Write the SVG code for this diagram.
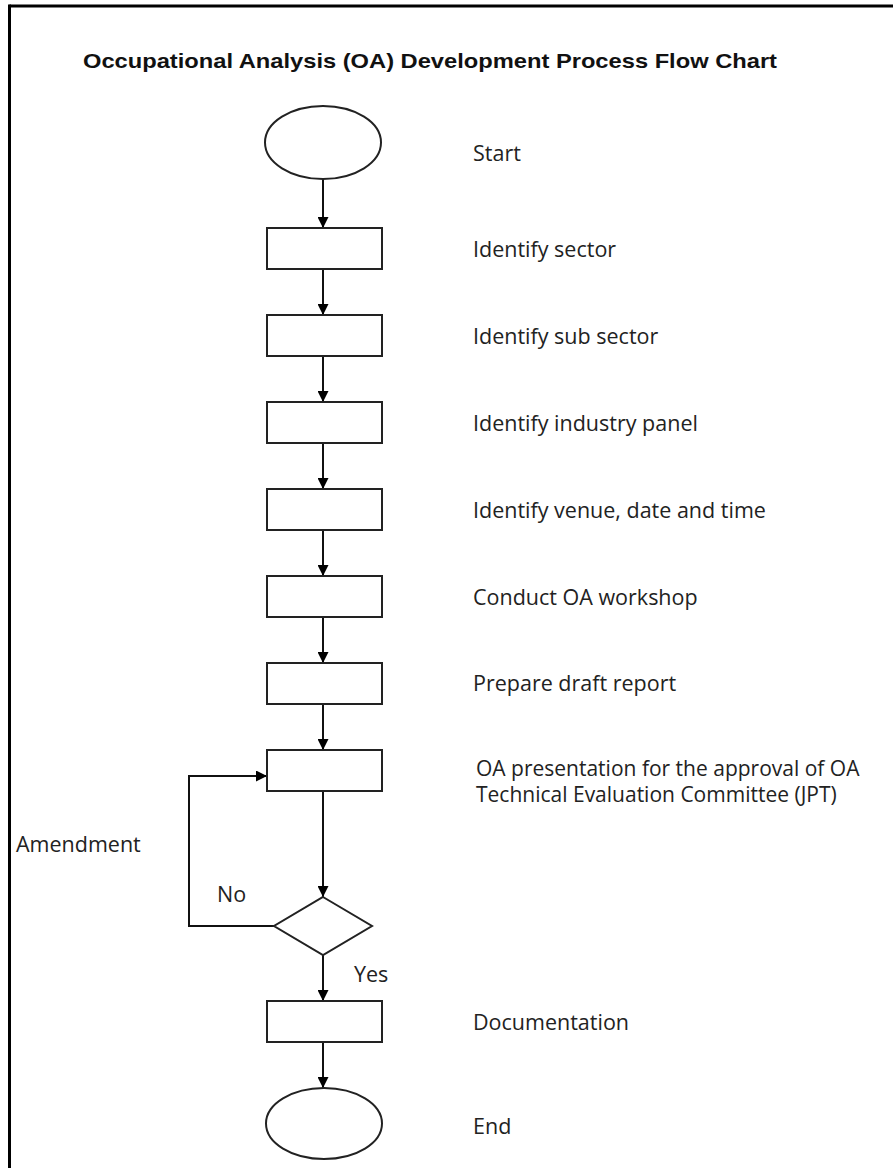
<svg xmlns="http://www.w3.org/2000/svg" width="893" height="1168" viewBox="0 0 893 1168">
<defs>
<marker id="arr" viewBox="0 0 10 10" refX="10" refY="5" markerWidth="11" markerHeight="11" markerUnits="userSpaceOnUse" orient="auto">
<path d="M0,0 L10,5 L0,10 Z" fill="#000"/>
</marker>
<style>
.shape{fill:#fff;stroke:#222;stroke-width:2}
.conn{fill:none;stroke:#111;stroke-width:2;marker-end:url(#arr)}
.lbl{font-family:"Open Sans","Liberation Sans",sans-serif;font-size:21.5px;fill:#222}
.lbl2{font-family:"Open Sans","Liberation Sans",sans-serif;font-size:21px;fill:#222}
.title{font-family:"Liberation Sans",Arial,sans-serif;font-weight:bold;font-size:21px;fill:#111}
</style>
</defs>
<rect width="893" height="1168" fill="#fff"/>
<line x1="9.5" y1="6" x2="893" y2="6" stroke="#000" stroke-width="3"/>
<line x1="9.5" y1="4.5" x2="9.5" y2="1168" stroke="#000" stroke-width="3"/>
<text class="title" x="83" y="68" textLength="694" lengthAdjust="spacingAndGlyphs">Occupational Analysis (OA) Development Process Flow Chart</text>

<g id="connectors">
<line class="conn" x1="323" y1="179" x2="323" y2="228"/>
<line class="conn" x1="323" y1="269" x2="323" y2="315"/>
<line class="conn" x1="323" y1="356" x2="323" y2="402"/>
<line class="conn" x1="323" y1="443" x2="323" y2="489"/>
<line class="conn" x1="323" y1="530" x2="323" y2="576"/>
<line class="conn" x1="323" y1="617" x2="323" y2="663"/>
<line class="conn" x1="323" y1="704" x2="323" y2="750"/>
<line class="conn" x1="323" y1="791" x2="323" y2="897"/>
<polyline class="conn" points="274,926 189,926 189,776 267,776"/>
<line class="conn" x1="323" y1="955" x2="323" y2="1001"/>
<line class="conn" x1="323" y1="1042" x2="323" y2="1088"/>
<text class="lbl" x="16" y="852">Amendment</text>
<text class="lbl" x="217" y="902">No</text>
<text class="lbl" x="354" y="982">Yes</text>
</g>

<g id="start"><ellipse class="shape" cx="323" cy="142.5" rx="58" ry="36.5"/><text class="lbl" x="473" y="161">Start</text></g>
<g id="sector"><rect class="shape" x="267" y="228" width="115" height="41"/><text class="lbl" x="473" y="257">Identify sector</text></g>
<g id="subsector"><rect class="shape" x="267" y="315" width="115" height="41"/><text class="lbl" x="473" y="344">Identify sub sector</text></g>
<g id="panel"><rect class="shape" x="267" y="402" width="115" height="41"/><text class="lbl" x="473" y="431">Identify industry panel</text></g>
<g id="venue"><rect class="shape" x="267" y="489" width="115" height="41"/><text class="lbl" x="473" y="518">Identify venue, date and time</text></g>
<g id="workshop"><rect class="shape" x="267" y="576" width="115" height="41"/><text class="lbl" x="473" y="605">Conduct OA workshop</text></g>
<g id="draft"><rect class="shape" x="267" y="663" width="115" height="41"/><text class="lbl" x="473" y="691">Prepare draft report</text></g>
<g id="presentation"><rect class="shape" x="267" y="750" width="115" height="41"/><text class="lbl2" x="476" y="776">OA presentation for the approval of OA</text><text class="lbl2" x="476" y="802">Technical Evaluation Committee (JPT)</text></g>
<g id="decision"><polygon class="shape" points="323,897 372,926 323,955 274,926"/></g>
<g id="documentation"><rect class="shape" x="267" y="1001" width="115" height="41"/><text class="lbl" x="473" y="1030">Documentation</text></g>
<g id="end"><ellipse class="shape" cx="324" cy="1123.5" rx="58" ry="35.5"/><text class="lbl" x="473" y="1134">End</text></g>
</svg>
